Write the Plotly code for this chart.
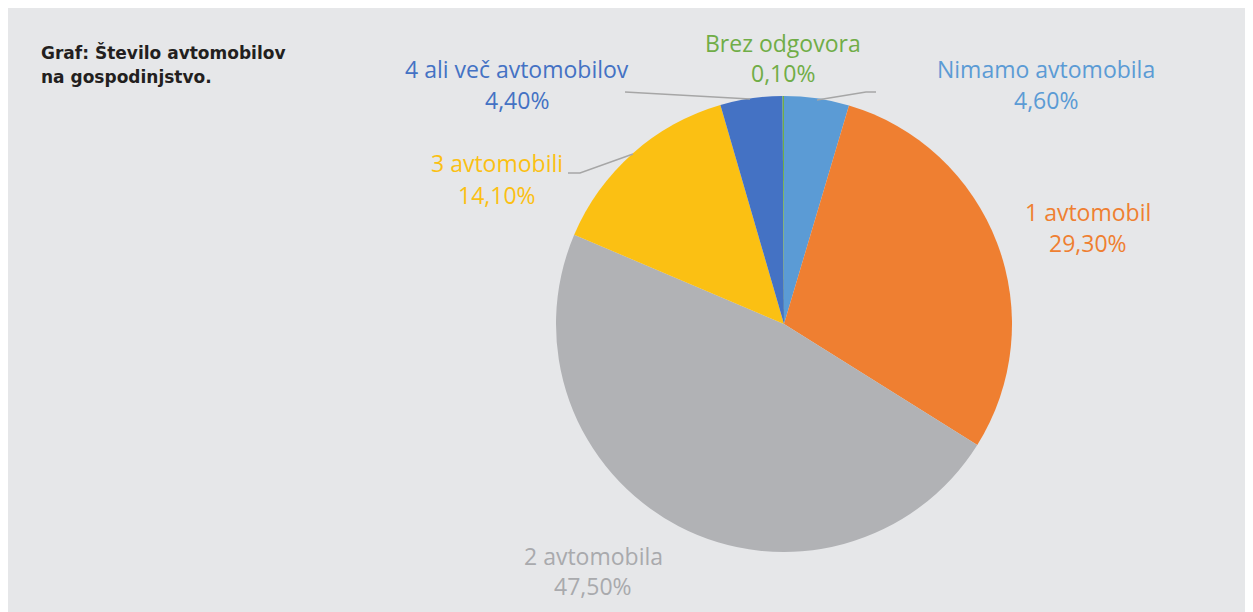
import plotly.graph_objects as go

W, H = 1253, 612

# Data
categories = ["Nimamo avtomobila", "1 avtomobil", "2 avtomobila", "3 avtomobili",
              "4 ali več avtomobilov", "Brez odgovora"]
shares = [4.6, 29.3, 47.5, 14.1, 4.4, 0.1]
slice_colors = ["#5b9bd5", "#ef7f31", "#b1b2b5", "#fbc013", "#4472c4", "#70ad47"]
label_colors = ["#5b9bd5", "#ef7f31", "#a9aaad", "#fbc013", "#4472c4", "#70ad47"]
title_lines = ["Graf: Število avtomobilov", "na gospodinjstvo."]

# Layout (pixel positions of label centres: x, name-line y, value-line y)
OFF = 8  # page body margin
label_pos = [(1046, 69, 100), (1088, 212, 243), (593, 556, 586),
             (497, 163, 195), (517, 69, 100), (783, 43, 73)]
title_y = [53, 77]
leaders = [
    [(817, 100), (866, 92), (876, 92)],
    [(568, 173), (580, 173), (633, 154)],
    [(625, 92), (750, 99)],
]
cx, cy, r = 784, 324, 228

def px(x):
    return (x - OFF) / W

def py(y):
    return 1 - (y - OFF) / H

fig = go.Figure()
fig.add_trace(go.Pie(
    labels=categories, values=shares, sort=False, direction="clockwise",
    rotation=0, marker=dict(colors=slice_colors, line=dict(width=0)),
    textinfo="none", showlegend=False,
    domain=dict(x=[px(cx - r), px(cx + r)], y=[py(cy + r), py(cy - r)]),
))

ann = []
for name, v, col, (lx, ly1, ly2) in zip(categories, shares, label_colors, label_pos):
    val = f"{v:.2f}".replace(".", ",") + "%"
    for txt, yy in ((name, ly1), (val, ly2)):
        ann.append(dict(x=px(lx), y=py(yy), xref="paper", yref="paper", text=txt,
                        showarrow=False, xanchor="center", yanchor="middle",
                        font=dict(family="Open Sans", size=23, color=col)))
for txt, yy in zip(title_lines, title_y):
    ann.append(dict(x=px(39), y=py(yy), xref="paper", yref="paper", text=txt,
                    showarrow=False, xanchor="left", yanchor="middle", align="left",
                    font=dict(family="DejaVu Sans", size=17, color="#231f20", weight="bold")))

shapes = []
for pts in leaders:
    path = "M " + " L ".join(f"{px(x)},{py(y)}" for x, y in pts)
    shapes.append(dict(type="path", xref="paper", yref="paper", path=path,
                       line=dict(color="#a6a6a6", width=1.5)))

fig.update_layout(width=W, height=H, margin=dict(l=0, r=0, t=0, b=0),
                  paper_bgcolor="#e6e7e9", plot_bgcolor="#e6e7e9",
                  annotations=ann, shapes=shapes)
fig.write_html("out.html")
